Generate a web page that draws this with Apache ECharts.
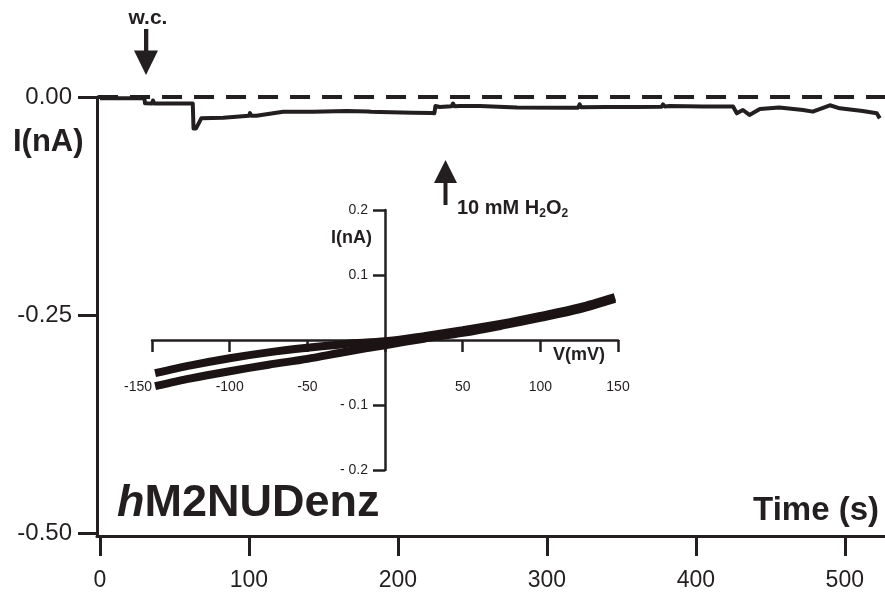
<!DOCTYPE html>
<html>
<head>
<meta charset="utf-8">
<script src="https://cdn.jsdelivr.net/npm/echarts@6/dist/echarts.min.js"></script>
<style>
html,body{margin:0;padding:0;background:#fff;}
#chart{width:885px;height:595px;}
</style>
</head>
<body>
<div id="chart"></div>
<script>
// ---- main recording: time (s) vs current (nA)
const timeS = [0, 29.8, 30.2, 35.0, 35.6, 36.4, 62.3, 62.8, 64.5, 68, 82.8, 100, 100.7, 101.5, 105, 123, 143, 165.6, 180, 181, 182, 188, 210, 222.6, 224.5, 225.2, 228, 236, 237, 238, 241.6, 255, 280, 315, 321, 322, 323, 340, 360, 377, 378, 379, 382.6, 405, 425, 427.5, 431.6, 436, 443, 456, 472, 478.5, 490, 496.6, 512, 521.5, 523.5];
const currentNA = [-0.0015, -0.0015, -0.0072, -0.0075, -0.004, -0.0075, -0.0075, -0.036, -0.036, -0.0245, -0.0237, -0.0214, -0.0185, -0.0214, -0.0214, -0.0168, -0.0168, -0.016, -0.0165, -0.0145, -0.0168, -0.0172, -0.018, -0.0183, -0.0185, -0.0103, -0.0115, -0.0105, -0.0075, -0.0105, -0.0103, -0.0103, -0.012, -0.0122, -0.0122, -0.0085, -0.0118, -0.0115, -0.0115, -0.0112, -0.0085, -0.0108, -0.0103, -0.011, -0.011, -0.0187, -0.0149, -0.0206, -0.0138, -0.012, -0.0149, -0.0168, -0.0095, -0.013, -0.016, -0.0187, -0.0245];
const zeroLineT = [-1.3, 527];
const mainXTicks = [0, 100, 200, 300, 400, 500];
const mainYTicks = [0, -0.25, -0.5];

// ---- inset I-V ramps: voltage (mV) vs current (nA)
const rampV = [-148, -125, -100, -75, -50, -25, 0, 25, 50, 75, 100, 125, 148];
const rampUpperI = [-0.051, -0.039, -0.028, -0.019, -0.012, -0.006, -0.002, 0.006, 0.015, 0.025, 0.037, 0.050, 0.066];
const rampLowerI = [-0.071, -0.059, -0.048, -0.038, -0.029, -0.018, -0.008, 0.002, 0.011, 0.022, 0.034, 0.047, 0.063];

const FONT = 'Liberation Sans, Arial, Helvetica, sans-serif';
const INK = '#231f20';

const zip = (a, b) => a.map((v, i) => [v, b[i]]);

const chart = echarts.init(document.getElementById('chart'), null, {renderer: 'canvas'});

const option = {
  backgroundColor: '#ffffff',
  animation: false,
  grid: [
    {left: 97, right: 0, top: 97, bottom: 59},
    {left: 152, right: 267, top: 210, bottom: 125}
  ],
  xAxis: [
    {
      type: 'value', gridIndex: 0, min: -2, max: 527,
      axisLine: {show: true, onZero: false, lineStyle: {color: INK, width: 3}},
      axisTick: {show: true, length: 20, lineStyle: {color: INK, width: 3}, customValues: mainXTicks},
      axisLabel: {show: true, margin: 33, fontSize: 23, color: INK, fontFamily: FONT, customValues: mainXTicks},
      splitLine: {show: false}
    },
    {
      type: 'value', gridIndex: 1, min: -150, max: 150, interval: 50,
      position: 'bottom', offset: -130,
      axisLine: {show: true, onZero: false, lineStyle: {color: INK, width: 2.5}},
      axisTick: {show: true, length: 12, lineStyle: {color: INK, width: 2.5}},
      axisLabel: {show: true, margin: 40, fontSize: 14, color: INK, fontFamily: FONT,
        alignMinLabel: 'right',
        formatter: v => (v === 0 ? '' : String(v))},
      splitLine: {show: false}
    }
  ],
  yAxis: [
    {
      type: 'value', gridIndex: 0, min: -0.5034, max: 0,
      axisLine: {show: true, onZero: false, lineStyle: {color: INK, width: 3}},
      axisTick: {show: true, length: 19, lineStyle: {color: INK, width: 3}, customValues: mainYTicks},
      axisLabel: {show: true, margin: 25, fontSize: 24, color: INK, fontFamily: FONT, customValues: mainYTicks,
        formatter: v => v.toFixed(2)},
      splitLine: {show: false}
    },
    {
      type: 'value', gridIndex: 1, min: -0.2, max: 0.2, interval: 0.1,
      position: 'left', offset: -233,
      axisLine: {show: true, onZero: false, lineStyle: {color: INK, width: 2.5}},
      axisTick: {show: true, length: 12, lineStyle: {color: INK, width: 2.5}},
      axisLabel: {show: true, margin: 17, fontSize: 14, color: INK, fontFamily: FONT,
        formatter: v => {
          const r = Math.round(v * 10) / 10;
          if (r === 0) return '';
          return r > 0 ? r.toFixed(1) : '- ' + (-r).toFixed(1);
        }},
      splitLine: {show: false}
    }
  ],
  series: [
    {
      type: 'line', xAxisIndex: 0, yAxisIndex: 0, clip: false,
      data: zeroLineT.map(t => [t, 0]),
      showSymbol: false, silent: true,
      lineStyle: {color: INK, width: 4, type: [20, 12]}
    },
    {
      type: 'line', xAxisIndex: 0, yAxisIndex: 0, clip: false,
      data: zip(timeS, currentNA),
      showSymbol: false, silent: true,
      lineStyle: {color: INK, width: 4, join: 'round'}
    },
    {
      type: 'line', xAxisIndex: 1, yAxisIndex: 1, clip: false, smooth: 0.3,
      data: zip(rampV, rampLowerI),
      showSymbol: false, silent: true,
      lineStyle: {color: '#1c1414', width: 8}
    },
    {
      type: 'line', xAxisIndex: 1, yAxisIndex: 1, clip: false, smooth: 0.3,
      data: zip(rampV, rampUpperI),
      showSymbol: false, silent: true,
      lineStyle: {color: '#1c1414', width: 8}
    }
  ],
  graphic: [
    {type: 'text', left: 13, top: 145 - 18, style: {text: 'I(nA)', font: 'bold 31px ' + FONT, fill: INK}},
    {type: 'text', x: 117, y: 504, style: {
      text: '{i|h}{n|M2NUDenz}', verticalAlign: 'middle', align: 'left',
      rich: {
        i: {font: 'italic bold 45px ' + FONT, fill: INK},
        n: {font: 'bold 45px ' + FONT, fill: INK}
      }}},
    {type: 'text', x: 879, y: 511, style: {text: 'Time (s)', font: 'bold 33px ' + FONT, fill: INK, align: 'right', verticalAlign: 'middle'}},
    {type: 'text', x: 148, y: 18.5, style: {text: 'w.c.', font: 'bold 21px ' + FONT, fill: INK, align: 'center', verticalAlign: 'middle'}},
    {type: 'rect', shape: {x: 144, y: 29, width: 4.3, height: 23}, style: {fill: INK}},
    {type: 'polygon', shape: {points: [[134, 50.5], [158, 50.5], [146, 75]]}, style: {fill: INK}},
    {type: 'rect', shape: {x: 443.5, y: 181, width: 4, height: 24}, style: {fill: INK}},
    {type: 'polygon', shape: {points: [[434, 183], [457, 183], [445.5, 160]]}, style: {fill: INK}},
    {type: 'text', x: 457, y: 196, style: {
      text: '{a|10 mM H}{s|2}{a|O}{s|2}', align: 'left', verticalAlign: 'top',
      rich: {
        a: {font: 'bold 20px ' + FONT, fill: INK, lineHeight: 24, verticalAlign: 'middle'},
        s: {font: 'bold 12px ' + FONT, fill: INK, lineHeight: 24, verticalAlign: 'bottom'}
      }}},
    {type: 'text', x: 372, y: 238, style: {text: 'I(nA)', font: 'bold 18px ' + FONT, fill: INK, align: 'right', verticalAlign: 'middle'}},
    {type: 'text', x: 553, y: 355, style: {text: 'V(mV)', font: 'bold 18px ' + FONT, fill: INK, align: 'left', verticalAlign: 'middle'}}
  ]
};

chart.setOption(option);
</script>
</body>
</html>
